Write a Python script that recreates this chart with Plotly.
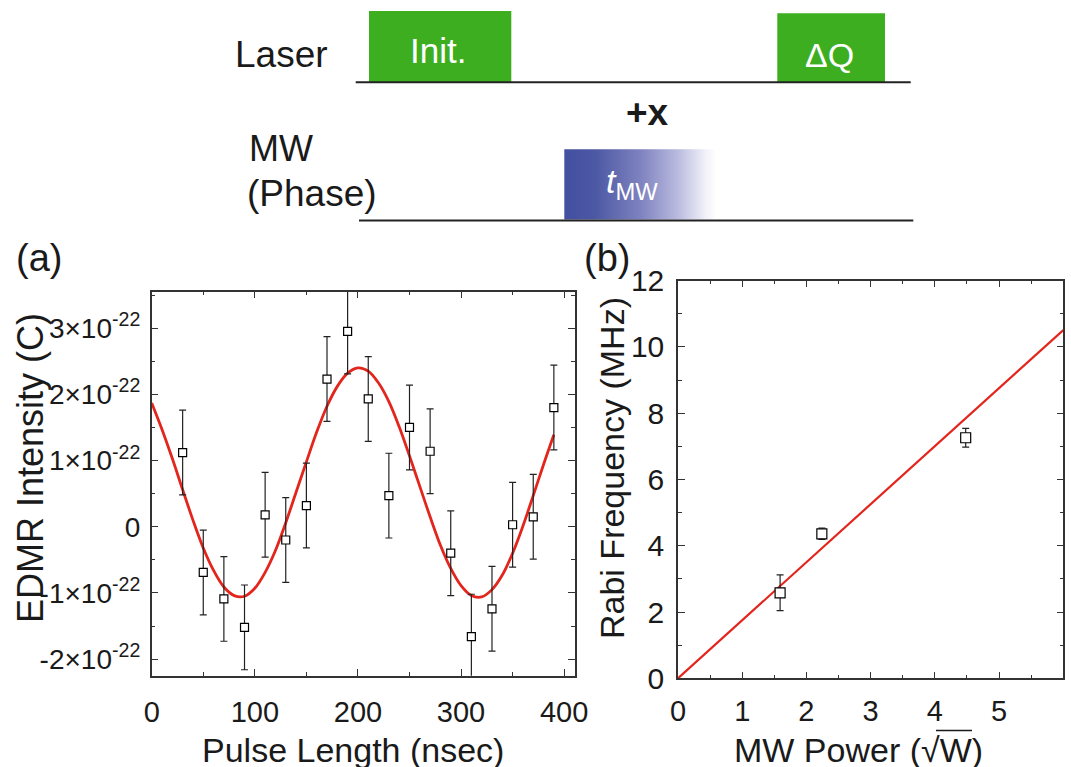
import plotly.graph_objects as go

W, H = 1071, 767

# ---------------- data: panel (a) ----------------
pulse_ns = [30, 50, 70, 90, 110, 130, 150, 170, 190, 210, 230, 250, 270, 290, 310, 330, 350, 370, 390]
edmr_e22 = [1.12, -0.69, -1.09, -1.52, 0.18, -0.20, 0.32, 2.23, 2.95, 1.93, 0.47, 1.50, 1.14, -0.40, -1.66, -1.24, 0.03, 0.15, 1.80]
edmr_err_e22 = [0.64] * 19

fit_ns = [0, 10, 20, 30, 40, 50, 60, 70, 80, 90, 100, 110, 120, 130, 140, 150, 160, 170, 180, 190,
          200, 210, 220, 230, 240, 250, 260, 270, 280, 290, 300, 310, 320, 330, 340, 350, 360, 370, 380, 390]
fit_e22 = [1.87, 1.47, 1.03, 0.56, 0.10, -0.32, -0.66, -0.91, -1.04, -1.05, -0.93, -0.69, -0.36, 0.06,
           0.52, 0.98, 1.43, 1.82, 2.12, 2.32, 2.40, 2.35, 2.17, 1.89, 1.51, 1.07, 0.61, 0.15, -0.28,
           -0.63, -0.89, -1.04, -1.06, -0.95, -0.73, -0.40, 0.01, 0.47, 0.94, 1.39]

y_ticks_a = [-2, -1, 0, 1, 2, 3]
y_ticktext_a = ["-2×10<sup>-22</sup>", "-1×10<sup>-22</sup>", "0", "1×10<sup>-22</sup>",
                "2×10<sup>-22</sup>", "3×10<sup>-22</sup>"]

# ---------------- data: panel (b) ----------------
mw_power = [1.59, 2.24, 4.48]
rabi_mhz = [2.58, 4.36, 7.26]
rabi_err = [0.54, 0.17, 0.28]
line_x = [0, 6]
line_y = [0, 10.51]

# ---------------- helpers ----------------
def px(x):
    return x / W

def py(y):
    return 1 - y / H

FONT = "Liberation Sans, Arial, sans-serif"
RED = "#E3261D"
GREEN = "#3DAE1F"
AXC = "#333333"
TXT = "#1a1a1a"

fig = go.Figure()

# panel (a)
fig.add_trace(go.Scatter(x=fit_ns, y=fit_e22, mode="lines", line=dict(color=RED, width=2.8, shape="spline"),
                         xaxis="x", yaxis="y", showlegend=False, hoverinfo="skip"))
fig.add_trace(go.Scatter(x=pulse_ns, y=edmr_e22, mode="markers",
                         marker=dict(symbol="square", size=8, color="white", line=dict(color="black", width=1.2)),
                         error_y=dict(type="data", array=edmr_err_e22, visible=True, color="#222", thickness=1.2, width=3.5),
                         xaxis="x", yaxis="y", showlegend=False))

# panel (b)
fig.add_trace(go.Scatter(x=line_x, y=line_y, mode="lines", line=dict(color=RED, width=2.2),
                         xaxis="x2", yaxis="y2", showlegend=False, hoverinfo="skip"))
fig.add_trace(go.Scatter(x=mw_power, y=rabi_mhz, mode="markers",
                         marker=dict(symbol="square", size=10, color="white", line=dict(color="black", width=1.2)),
                         error_y=dict(type="data", array=rabi_err, visible=True, color="#222", thickness=1.2, width=3.5),
                         xaxis="x2", yaxis="y2", showlegend=False))

# pulse diagram: gradient MW pulse (pixel coordinate axes x3/y3)
fig.add_trace(go.Scatter(x=[564.3, 716.7, 716.7, 564.3, 564.3], y=[149.3, 149.3, 219.5, 219.5, 149.3],
                         mode="lines", line=dict(width=0), fill="toself",
                         fillgradient=dict(type="horizontal",
                                           colorscale=[[0, "#4350A0"], [0.2, "#4C58A4"], [0.5, "#7E82BF"],
                                                       [0.75, "#BBBCDF"], [0.93, "#F2F2F9"], [1, "#FFFFFF"]]),
                         xaxis="x3", yaxis="y3", showlegend=False, hoverinfo="skip"))

def axis_style(size):
    return dict(showline=True, linecolor=AXC, linewidth=1.5, mirror="ticks", ticks="inside",
                ticklen=7, tickwidth=1.3, tickcolor=AXC, showgrid=False, zeroline=False,
                automargin=False, tickfont=dict(family=FONT, size=size, color=TXT))

fig.update_layout(
    template="none",
    width=W, height=H, margin=dict(l=0, r=0, t=0, b=0, pad=0, autoexpand=False),
    paper_bgcolor="white", plot_bgcolor="rgba(0,0,0,0)", showlegend=False,
    xaxis=dict(domain=[px(151.7), px(575)], range=[0, 410.5], anchor="y", tick0=0, dtick=100,
               minor=dict(ticks="inside", ticklen=4, tickwidth=1.2, tickcolor=AXC, dtick=50),
               ticklabelstandoff=10, **axis_style(29)),
    yaxis=dict(domain=[py(675.7), py(291.7)], range=[-2.25, 3.55], anchor="x",
               tickmode="array", tickvals=y_ticks_a, ticktext=y_ticktext_a,
               minor=dict(ticks="inside", ticklen=4, tickwidth=1.2, tickcolor=AXC, dtick=0.5, tick0=0),
               ticklabelstandoff=4, **axis_style(28)),
    xaxis2=dict(domain=[px(678), px(1063.3)], range=[0, 6], anchor="y2", tick0=0, dtick=1,
                minor=dict(ticks="inside", ticklen=4, tickwidth=1.2, tickcolor=AXC, dtick=0.5),
                ticklabelstandoff=6, **axis_style(29)),
    yaxis2=dict(domain=[py(678.3), py(280.7)], range=[0, 12], anchor="x2", tick0=0, dtick=2,
                minor=dict(ticks="inside", ticklen=4, tickwidth=1.2, tickcolor=AXC, dtick=1),
                ticklabelstandoff=6, **axis_style(30)),
    xaxis3=dict(domain=[0, 1], range=[0, W], visible=False, anchor="y3", fixedrange=True, automargin=False),
    yaxis3=dict(domain=[0, 1], range=[H, 0], visible=False, anchor="x3", fixedrange=True, automargin=False),
)

shapes = [
    dict(type="rect", xref="x3", yref="y3", x0=369, x1=511.3, y0=11, y1=82, fillcolor=GREEN, line=dict(width=0), layer="below"),
    dict(type="rect", xref="x3", yref="y3", x0=777.3, x1=885, y0=13.3, y1=82, fillcolor=GREEN, line=dict(width=0), layer="below"),
    dict(type="line", xref="x3", yref="y3", x0=355.7, x1=910.7, y0=82.3, y1=82.3, line=dict(color="#222", width=2)),
    dict(type="line", xref="x3", yref="y3", x0=359, x1=913.3, y0=220.5, y1=220.5, line=dict(color="#222", width=2)),
    # overbar of the square-root sign in the x-axis title of panel (b)
    dict(type="line", xref="x3", yref="y3", x0=936, x1=972, y0=730.5, y1=730.5, line=dict(color=TXT, width=1.4)),
]
fig.update_layout(shapes=shapes)

def ann(text, x, y, size, xanchor="center", yanchor="middle", color=TXT, angle=0):
    return dict(text=text, x=px(x), y=py(y), xref="paper", yref="paper", showarrow=False,
                xanchor=xanchor, yanchor=yanchor, textangle=angle,
                font=dict(family=FONT, size=size, color=color))

annotations = [
    ann("Laser", 281.5, 55, 37),
    ann("Init.", 438, 51, 35, color="white"),
    ann("ΔQ", 829, 55, 34, color="white"),
    ann("<b>+x</b>", 647, 113, 37),
    ann("MW", 247, 148, 36, xanchor="left"),
    ann("(Phase)", 245, 193, 37, xanchor="left"),
    ann("<i>t</i><sub>MW</sub>", 632, 184, 34, color="white"),
    ann("(a)", 38.5, 258, 38),
    ann("(b)", 606.5, 258, 38),
    ann("Pulse Length (nsec)", 352.5, 749.5, 34),
    ann("EDMR Intensity (C)", 30, 468, 36, angle=-90),
    ann("Rabi Frequency (MHz)", 612, 468, 34, angle=-90),
    ann("MW Power (√W)", 858, 749.5, 34),
]
fig.update_layout(annotations=annotations)

fig.write_html("out.html", config={"displayModeBar": False},
               post_script="document.body.style.margin='0';document.body.style.padding='0';"
                           "document.body.style.overflow='hidden';")
